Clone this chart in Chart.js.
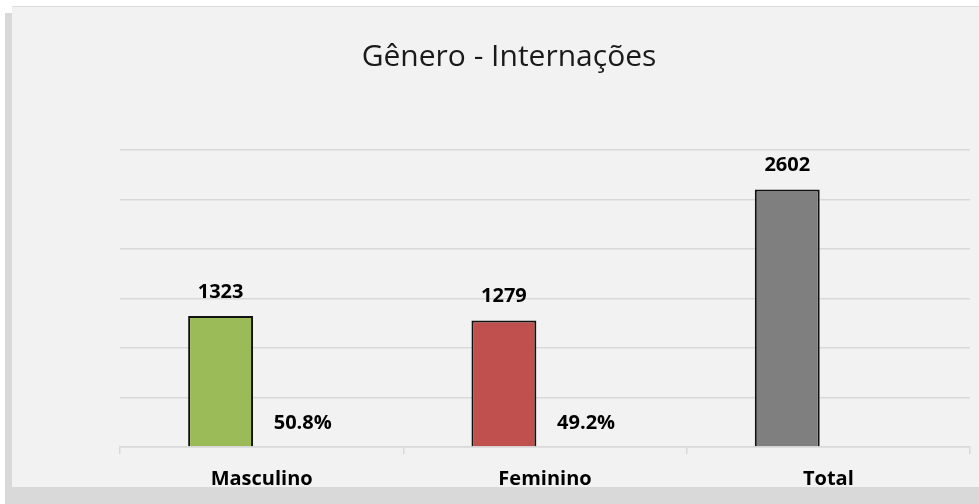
<!DOCTYPE html>
<html>
<head>
<meta charset="utf-8">
<script src="https://cdn.jsdelivr.net/npm/chart.js@4.4.0/dist/chart.umd.min.js"></script>
<style>
  html, body { margin: 0; padding: 0; background: #fff; }
  #shadow { position: absolute; left: 5px; top: 13px; width: 974px; height: 491px; background: #d9d9d9; }
  #box { position: absolute; left: 12px; top: 6px; width: 967px; height: 481px; background: #f2f2f2; border-top: 1px solid #dcdcdc; box-sizing: border-box; overflow: hidden; }
  #box canvas { display: block; }
</style>
</head>
<body>
<div id="shadow"></div>
<div id="box"><canvas id="grafico" width="967" height="499"></canvas></div>
<script>
const categorias = ['Masculino', 'Feminino', 'Total'];
const internacoes = [1323, 1279, 2602];
const percentuais = [0.508, 0.492, null];
const coresBarras = ['#9bbb59', '#c0504d', '#7f7f7f'];
const eixoY = { min: 0, max: 3000, passo: 500 };

// rótulos em cima das barras (sem plugin externo)
const rotulos = {
  id: 'rotulos',
  afterDatasetsDraw(chart) {
    const ctx = chart.ctx;
    ctx.save();
    ctx.font = 'bold 20px "Open Sans", sans-serif';
    ctx.fillStyle = '#000';
    ctx.textAlign = 'center';
    ctx.textBaseline = 'middle';
    chart.data.datasets.forEach((ds, i) => {
      const meta = chart.getDatasetMeta(i);
      meta.data.forEach((bar, j) => {
        const v = ds.data[j];
        if (v == null) return;
        const txt = i === 0 ? String(v) : (v * 100).toFixed(1) + '%';
        ctx.fillText(txt, bar.x, bar.y - 24);
      });
    });
    ctx.restore();
  }
};

new Chart(document.getElementById('grafico'), {
  type: 'bar',
  data: {
    labels: categorias,
    datasets: [
      {
        label: 'Internações',
        data: internacoes,
        backgroundColor: coresBarras,
        borderColor: '#111',
        borderWidth: { top: 2, left: 2, right: 2, bottom: 0 },
        borderSkipped: false,
        categoryPercentage: 0.58,
        barPercentage: 0.79
      },
      {
        label: '%',
        data: percentuais,
        backgroundColor: 'rgba(0,0,0,0)',
        borderWidth: 0,
        categoryPercentage: 0.58,
        barPercentage: 0.79
      }
    ]
  },
  options: {
    responsive: false,
    animation: false,
    layout: { padding: { left: 36, right: 9, top: 21, bottom: 2 } },
    plugins: {
      legend: { display: false },
      tooltip: { enabled: false },
      title: {
        display: true,
        text: 'Gênero - Internações',
        color: '#1a1a1a',
        font: { family: '"Open Sans", sans-serif', size: 30, weight: 'normal' },
        padding: { top: 11, bottom: 75 }
      }
    },
    scales: {
      x: {
        grid: { drawOnChartArea: false, drawTicks: true, tickLength: 7, color: '#d9d9d9', lineWidth: 1.5 },
        border: { color: '#d9d9d9', width: 1.5 },
        ticks: {
          color: '#000',
          padding: 13,
          font: { family: '"Open Sans", sans-serif', size: 20, weight: 'bold' }
        }
      },
      y: {
        min: eixoY.min,
        max: eixoY.max,
        afterFit(scale) { scale.width = 72; },
        ticks: { display: false, stepSize: eixoY.passo },
        grid: { color: '#d9d9d9', lineWidth: 1.5, drawTicks: false },
        border: { display: false }
      }
    }
  },
  plugins: [rotulos]
});
</script>
</body>
</html>
